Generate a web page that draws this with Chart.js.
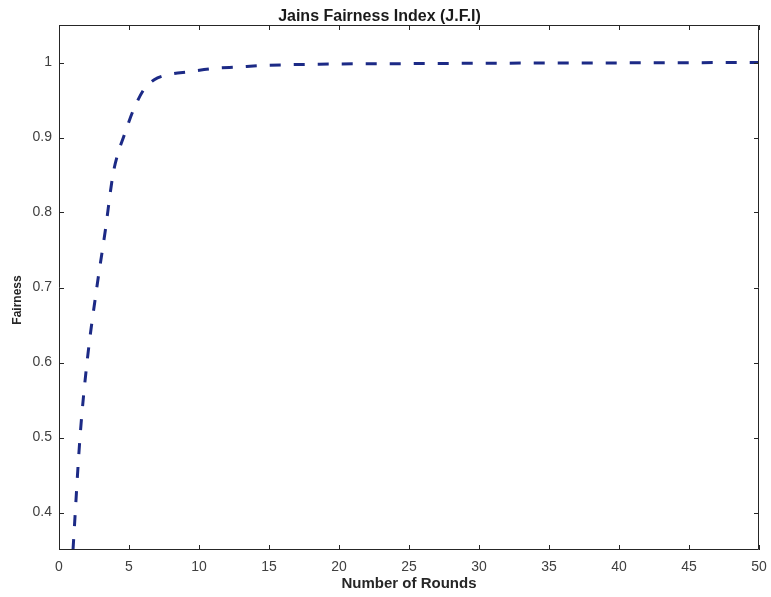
<!DOCTYPE html>
<html>
<head>
<meta charset="utf-8">
<script src="https://cdn.jsdelivr.net/npm/chart.js@4.4.1/dist/chart.umd.min.js"></script>
<style>
  html, body { margin: 0; padding: 0; background: #fff; }
  canvas { display: block; }
</style>
</head>
<body>
<canvas id="jfi" width="771" height="597"></canvas>
<script>
// J.F.I per round
const rounds = [1, 1.5, 2, 2.7, 3.3, 3.85, 4.2, 4.6, 5.3, 6.1, 6.8, 7.6, 9.4, 11, 12.8, 14.5, 20, 25, 30, 40, 50];
const fairness = [0.35, 0.50, 0.60, 0.70, 0.775, 0.85, 0.878, 0.90, 0.936, 0.965, 0.977, 0.983, 0.988, 0.992, 0.994, 0.996, 0.998, 0.9985, 0.999, 0.9995, 1.0];

const xTicks = [0, 5, 10, 15, 20, 25, 30, 35, 40, 45, 50];
const yTicks = [0.4, 0.5, 0.6, 0.7, 0.8, 0.9, 1];
const yLabel = 'Fairness';

const AXIS_COLOR = '#262626';
const FONT = 'Liberation Sans, Arial, Helvetica, sans-serif';

// MATLAB-like box with inward ticks on all four sides, plus the y label
const boxAxes = {
    id: 'boxAxes',
    afterDraw(chart) {
        const { ctx, chartArea: a, scales } = chart;
        const len = 5;
        ctx.save();
        ctx.strokeStyle = AXIS_COLOR;
        ctx.lineWidth = 1;
        ctx.beginPath();
        ctx.rect(a.left + 0.5, a.top + 0.5, a.right - a.left - 1, a.bottom - a.top - 1);
        scales.x.ticks.forEach((t) => {
            const px = Math.round(scales.x.getPixelForValue(t.value)) + 0.5;
            ctx.moveTo(px, a.bottom);
            ctx.lineTo(px, a.bottom - len);
            ctx.moveTo(px, a.top);
            ctx.lineTo(px, a.top + len);
        });
        scales.y.ticks.forEach((t) => {
            const py = Math.round(scales.y.getPixelForValue(t.value)) + 0.5;
            ctx.moveTo(a.left, py);
            ctx.lineTo(a.left + len, py);
            ctx.moveTo(a.right, py);
            ctx.lineTo(a.right - len, py);
        });
        ctx.stroke();

        ctx.translate(18, 300);
        ctx.rotate(-Math.PI / 2);
        ctx.fillStyle = '#262626';
        ctx.font = `bold 12px ${FONT}`;
        ctx.textAlign = 'center';
        ctx.textBaseline = 'middle';
        ctx.fillText(yLabel, 0, 0);
        ctx.restore();
    },
};

new Chart(document.getElementById('jfi'), {
    type: 'line',
    data: {
        datasets: [
            {
                data: rounds.map((r, i) => ({ x: r, y: fairness[i] })),
                borderColor: '#1c2a86',
                borderWidth: 3,
                borderDash: [11, 13],
                borderCapStyle: 'butt',
                pointRadius: 0,
                fill: false,
                cubicInterpolationMode: 'monotone',
            },
        ],
    },
    options: {
        responsive: false,
        animation: false,
        layout: { padding: { left: 0, right: 12, top: 0, bottom: 0 } },
        scales: {
            x: {
                type: 'linear',
                min: 0,
                max: 50,
                afterBuildTicks: (scale) => { scale.ticks = xTicks.map((v) => ({ value: v })); },
                afterFit: (scale) => {
                    scale.height = 47;
                    scale.paddingLeft = 0;
                    scale.paddingRight = 0;
                },
                grid: { display: false, drawTicks: false },
                border: { display: false },
                ticks: {
                    color: '#404040',
                    padding: 9,
                    font: { family: FONT, size: 14 },
                },
                title: {
                    display: true,
                    text: 'Number of Rounds',
                    color: '#262626',
                    padding: { top: 0, bottom: 4 },
                    font: { family: FONT, size: 15, weight: 'bold' },
                },
            },
            y: {
                type: 'linear',
                min: 0.35,
                max: 1.05,
                afterBuildTicks: (scale) => { scale.ticks = yTicks.map((v) => ({ value: v })); },
                afterFit: (scale) => {
                    scale.width = 59;
                    scale.paddingTop = 0;
                    scale.paddingBottom = 0;
                },
                grid: { display: false, drawTicks: false },
                border: { display: false },
                ticks: {
                    color: '#404040',
                    padding: 7,
                    font: { family: FONT, size: 14 },
                    callback: (v) => String(Math.round(v * 10) / 10),
                },
            },
        },
        plugins: {
            legend: { display: false },
            tooltip: { enabled: false },
            title: {
                display: true,
                text: 'Jains Fairness Index (J.F.I)',
                color: '#1a1a1a',
                padding: { top: 9, bottom: 0 },
                font: { family: FONT, size: 16, weight: 'bold', lineHeight: 1 },
            },
        },
    },
    plugins: [boxAxes],
});
</script>
</body>
</html>
